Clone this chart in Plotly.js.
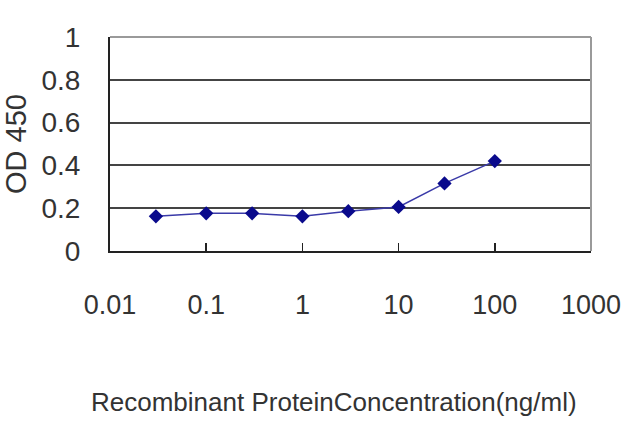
<!DOCTYPE html>
<html>
<head>
<meta charset="utf-8">
<script src="https://cdn.plot.ly/plotly-3.0.1.min.js"></script>
<style>
  html, body { margin: 0; padding: 0; background: #fff; }
  #chart { width: 640px; height: 427px; }
</style>
</head>
<body>
<div id="chart"></div>
<script>
// concentration (ng/ml) and measured OD 450
const concentrations = [0.03, 0.1, 0.3, 1, 3, 10, 30, 100];
const odValues = [0.162, 0.176, 0.176, 0.162, 0.186, 0.206, 0.316, 0.42];

const xTickVals = [0.01, 0.1, 1, 10, 100, 1000];
const xTickText = ['0.01', '0.1', '1', '10', '100', '1000'];
const yTickVals = [0, 0.2, 0.4, 0.6, 0.8, 1];
const yTickText = ['0', '0.2', '0.4', '0.6', '0.8', '1'];
const xTitle = 'Recombinant ProteinConcentration(ng/ml)';
const yTitle = 'OD 450';

const textColor = '#333';
const fontFamily = 'Liberation Sans, Arial, sans-serif';

const data = [{
    type: 'scatter',
    mode: 'lines+markers',
    x: concentrations,
    y: odValues,
    line: { color: '#3a3aa8', width: 1.5 },
    marker: { symbol: 'diamond', size: 11, color: '#0a0a8c' },
    hoverinfo: 'x+y'
}];

const layout = {
    width: 640,
    height: 427,
    margin: { l: 110, r: 49, t: 37, b: 176 },
    paper_bgcolor: '#fff',
    plot_bgcolor: '#fff',
    showlegend: false,
    font: { family: fontFamily, color: textColor },
    xaxis: {
        type: 'log',
        range: [-2, 3],
        tickvals: xTickVals,
        ticktext: xTickText,
        ticks: 'inside',
        ticklen: 8,
        tickcolor: '#222',
        tickwidth: 1.5,
        showgrid: false,
        zeroline: false,
        showline: true,
        linecolor: '#222',
        linewidth: 2,
        ticklabelstandoff: 29,
        tickfont: { size: 27, color: textColor }
    },
    yaxis: {
        range: [0, 1],
        tickvals: yTickVals,
        ticktext: yTickText,
        ticks: '',
        showgrid: true,
        gridcolor: '#444',
        gridwidth: 2,
        zeroline: false,
        showline: true,
        linecolor: '#222',
        linewidth: 2,
        ticklabelstandoff: 22,
        tickfont: { size: 28, color: textColor },
        title: {
            text: yTitle,
            font: { size: 29, color: textColor },
            standoff: 12
        }
    },
    annotations: [{
        // x-axis title sits a little left of the plot centre in the original
        text: xTitle,
        xref: 'paper', yref: 'paper',
        x: 0.466, y: -0.706,
        xanchor: 'center', yanchor: 'middle',
        showarrow: false,
        font: { size: 26, color: textColor }
    }],
    shapes: [
        // light grey frame on top and right of the plot area
        { type: 'line', xref: 'paper', yref: 'paper', x0: 0, x1: 1, y0: 1, y1: 1,
          line: { color: '#9a9a9a', width: 2 }, layer: 'above' },
        { type: 'line', xref: 'paper', yref: 'paper', x0: 1, x1: 1, y0: 0, y1: 1,
          line: { color: '#9a9a9a', width: 2 }, layer: 'above' }
    ]
};

Plotly.newPlot('chart', data, layout, { displayModeBar: false, staticPlot: true });
</script>
</body>
</html>
